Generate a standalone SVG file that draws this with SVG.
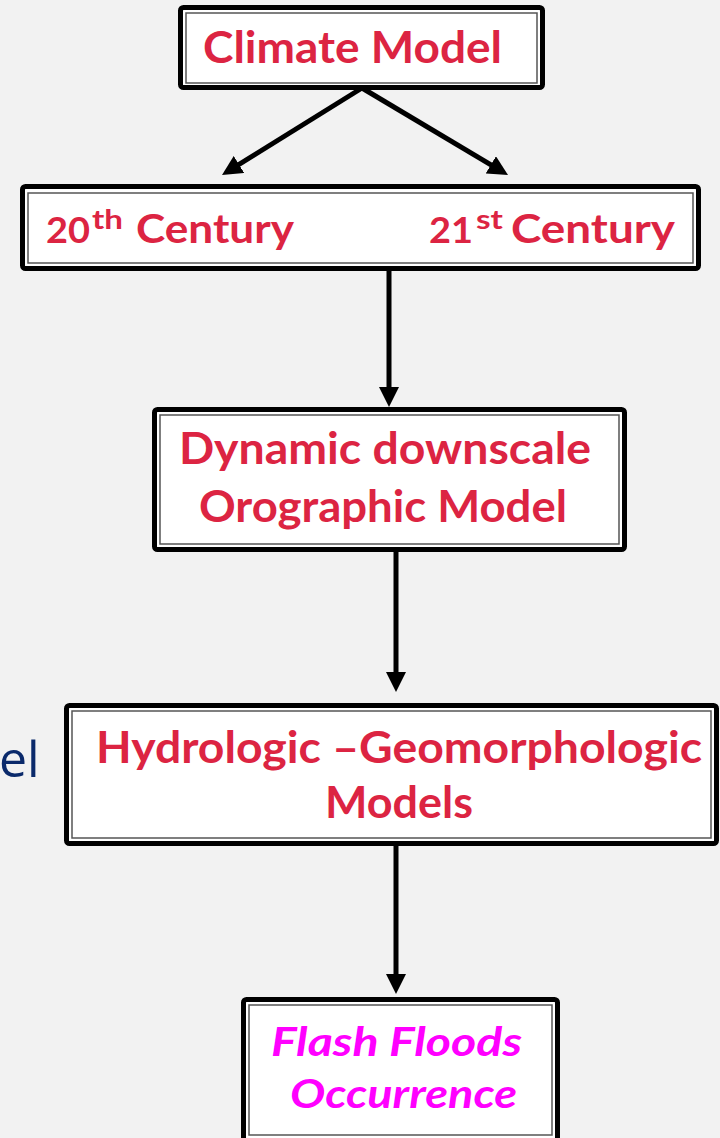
<svg xmlns="http://www.w3.org/2000/svg" width="720" height="1138" viewBox="0 0 720 1138">
<style>
.outer{fill:#ffffff;stroke:#000000;stroke-width:5}
.inner{fill:none;stroke:#555555;stroke-width:1.5}
.t{font-family:Lato,"Open Sans","Liberation Sans",sans-serif;font-weight:bold;fill:#dc2442;font-size:44px}
.t2{font-family:Lato,"Open Sans","Liberation Sans",sans-serif;font-weight:bold;fill:#dc2442;font-size:40px}
.num{font-family:Lato,"Open Sans","Liberation Sans",sans-serif;font-weight:bold;fill:#dc2442;font-size:36px}
.sup{font-family:Lato,"Open Sans","Liberation Sans",sans-serif;font-weight:bold;fill:#dc2442;font-size:27px}
.mag{font-family:Lato,"Open Sans","Liberation Sans",sans-serif;font-weight:bold;font-style:italic;fill:#ff00ff;font-size:41px}
.side{font-family:"Open Sans","Liberation Sans",sans-serif;fill:#0b2a6b;font-size:50px}
.conn{stroke:#000000;stroke-width:5;fill:none;marker-end:url(#ah)}
</style>
<defs>
<marker id="ah" markerUnits="userSpaceOnUse" markerWidth="21" markerHeight="21" refX="8" refY="10" orient="auto">
<path d="M0,0 L20,10 L0,20 z" fill="#000000"/>
</marker>
</defs>
<rect x="0" y="0" width="720" height="1138" fill="#f2f2f2"/>
<text class="side" x="-1" y="777">el</text>
<g id="connectors">
<line class="conn" x1="362" y1="88" x2="232.2" y2="168.7"/>
<line class="conn" x1="362" y1="88" x2="497.7" y2="168.9"/>
<line class="conn" x1="389" y1="271" x2="389" y2="395"/>
<line class="conn" x1="396" y1="552" x2="396" y2="680"/>
<line class="conn" x1="396" y1="846" x2="396" y2="982"/>
</g>
<g id="climate-model">
<rect class="outer" x="180.5" y="7.5" width="362" height="80" rx="3"/>
<rect class="inner" x="186" y="13" width="351" height="70"/>
<text class="t" x="203" y="63" textLength="299" lengthAdjust="spacingAndGlyphs">Climate Model</text>
</g>
<g id="centuries">
<rect class="outer" x="22.5" y="186.5" width="676" height="82" rx="3"/>
<rect class="inner" x="28" y="193" width="665" height="70"/>
<text class="num" x="46" y="243" textLength="44" lengthAdjust="spacingAndGlyphs">20</text>
<text class="sup" x="92" y="229" textLength="31" lengthAdjust="spacingAndGlyphs">th</text>
<text class="t2" x="136" y="243" textLength="158" lengthAdjust="spacingAndGlyphs">Century</text>
<text class="num" x="429" y="243" textLength="44" lengthAdjust="spacingAndGlyphs">21</text>
<text class="sup" x="476" y="229" textLength="27" lengthAdjust="spacingAndGlyphs">st</text>
<text class="t2" x="511" y="243" textLength="164" lengthAdjust="spacingAndGlyphs">Century</text>
</g>
<g id="downscale">
<rect class="outer" x="154.5" y="409.5" width="470" height="140" rx="3"/>
<rect class="inner" x="160" y="415" width="459" height="129"/>
<text class="t" x="179" y="464" textLength="412" lengthAdjust="spacingAndGlyphs">Dynamic downscale</text>
<text class="t" x="199" y="522" textLength="368" lengthAdjust="spacingAndGlyphs">Orographic Model</text>
</g>
<g id="hydrologic">
<rect class="outer" x="66.5" y="705.5" width="650" height="138" rx="3"/>
<rect class="inner" x="72" y="711" width="639" height="127"/>
<text class="t" x="96" y="763" textLength="606" lengthAdjust="spacingAndGlyphs">Hydrologic –Geomorphologic</text>
<text class="t" x="325" y="818" textLength="148" lengthAdjust="spacingAndGlyphs">Models</text>
</g>
<g id="flash-floods">
<rect class="outer" x="243.5" y="999.5" width="314" height="150" rx="3"/>
<rect class="inner" x="249" y="1005" width="303" height="130"/>
<text class="mag" x="271" y="1056" textLength="251" lengthAdjust="spacingAndGlyphs">Flash Floods</text>
<text class="mag" x="290" y="1108" textLength="227" lengthAdjust="spacingAndGlyphs">Occurrence</text>
</g>
</svg>
